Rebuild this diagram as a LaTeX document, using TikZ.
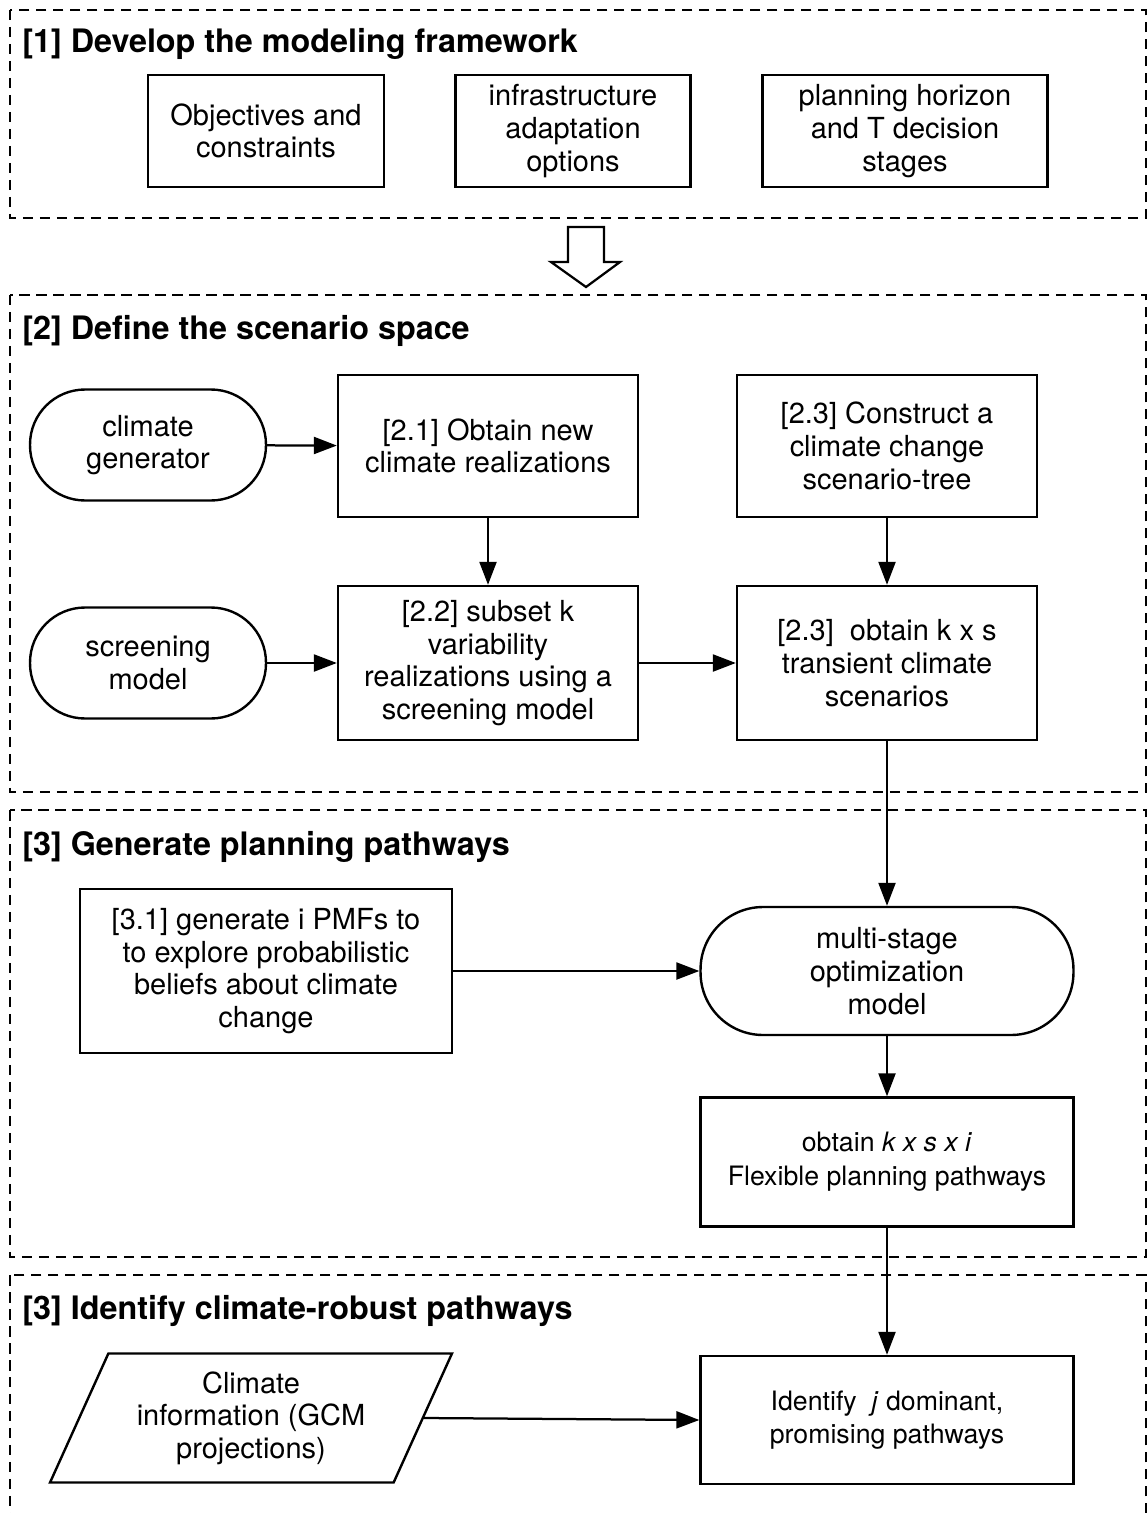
\documentclass[tikz,border=0pt]{standalone}
\usepackage{fontspec}
\setmainfont{TeX Gyre Heros}
\usetikzlibrary{arrows.meta,shapes.geometric}
\begin{document}
\begin{tikzpicture}[x=0.02cm,y=-0.02cm,
  frame/.style={draw, dash pattern=on 0.21cm off 0.13cm, line width=0.05cm},
  hdr/.style={anchor=west, inner sep=0, font=\fontsize{18.4}{22}\selectfont\bfseries},
  box/.style={draw, line width=0.048cm, align=center, inner sep=0,
    font=\fontsize{16.5}{18.6}\selectfont},
  smallbox/.style={box, font=\fontsize{15.2}{19.2}\selectfont},
  stadium/.style={box, rounded corners=1.1cm},
  para/.style={box, trapezium, trapezium left angle=58, trapezium right angle=122,
    trapezium stretches body},
  link/.style={draw, line width=0.045cm, -{Triangle[length=0.46cm,width=0.34cm]}}
]
\clip (0,0) rectangle (1148,1513);
\fill[white] (0,0) rectangle (1148,1513);

% section frames
\draw[frame] (10,10) rectangle (1146,218);
\draw[frame] (10,295) rectangle (1146,792);
\draw[frame] (10,810) rectangle (1146,1257);
\draw[frame] (10,1275) rectangle (1146,1540);

% section headings
\node[hdr] (h1) at (22,44) {[1] Develop the modeling framework};
\node[hdr] (h2) at (22,331) {[2] Define the scenario space};
\node[hdr] (h3) at (22,847) {[3] Generate planning pathways};
\node[hdr] (h4) at (22,1311) {[3] Identify climate-robust pathways};

% [1] framework components
\node[box, minimum width=4.72cm, minimum height=2.24cm] (obj) at (266,131)
  {Objectives and\\constraints};
\node[box, minimum width=4.70cm, minimum height=2.24cm] (infra) at (573,131)
  {infrastructure\\adaptation\\options};
\node[box, minimum width=5.70cm, minimum height=2.24cm] (horizon) at (905,131)
  {planning horizon\\and T decision\\stages};

% hollow block arrow between [1] and [2]
\draw[line width=0.045cm, fill=white, line join=miter]
  (568,227) -- (604,227) -- (604,262) -- (620,262) -- (586,287)
  -- (551,262) -- (568,262) -- cycle;

% [2] scenario space
\node[stadium, minimum width=4.72cm, minimum height=2.22cm] (gen) at (148,445)
  {climate\\generator};
\node[box, minimum width=6.0cm, minimum height=2.84cm] (s21) at (488,446)
  {[2.1] Obtain new\\climate realizations};
\node[box, minimum width=6.0cm, minimum height=2.84cm] (s23a) at (887,446)
  {[2.3] Construct a\\climate change\\scenario-tree};
\node[stadium, minimum width=4.72cm, minimum height=2.22cm] (screen) at (148,663)
  {screening\\model};
\node[box, minimum width=6.0cm, minimum height=3.08cm] (s22) at (488,663)
  {[2.2] subset k\\variability\\realizations using a\\screening model};
\node[box, minimum width=6.0cm, minimum height=3.08cm] (s23b) at (887,663)
  {[2.3]\ \ obtain k x s\\transient climate\\scenarios};

% [3] planning pathways
\node[box, minimum width=7.44cm, minimum height=3.28cm] (s31) at (266,971)
  {[3.1] generate i PMFs to\\to explore probabilistic\\beliefs about climate\\change};
\node[box, rounded corners=1.25cm, minimum width=7.46cm, minimum height=2.56cm] (msm) at (887,971)
  {multi-stage\\optimization\\model};
\node[smallbox, minimum width=7.46cm, minimum height=2.58cm] (flex) at (887,1162)
  {\raisebox{-0.1cm}{\parbox{7cm}{\centering obtain \textit{k x s x i}\\Flexible planning pathways}}};

% [3] robust pathways
\node[para, minimum width=8.04cm, minimum height=2.58cm] (gcm) at (251,1418)
  {Climate\\information (GCM\\projections)};
\node[smallbox, minimum width=7.46cm, minimum height=2.56cm] (robust) at (887,1420)
  {\raisebox{-0.1cm}{\parbox{7cm}{\centering Identify\ \ \textit{j} dominant,\\promising pathways}}};

% connectors
\draw[link] (gen) -- (s21);
\draw[link] (s21) -- (s22);
\draw[link] (s23a) -- (s23b);
\draw[link] (screen) -- (s22);
\draw[link] (s22) -- (s23b);
\draw[link] (s23b) -- (msm);
\draw[link] (s31) -- (msm);
\draw[link] (msm) -- (flex);
\draw[link] (flex) -- (robust);
\draw[link] (gcm.east) -- (robust.west);
\end{tikzpicture}
\end{document}
